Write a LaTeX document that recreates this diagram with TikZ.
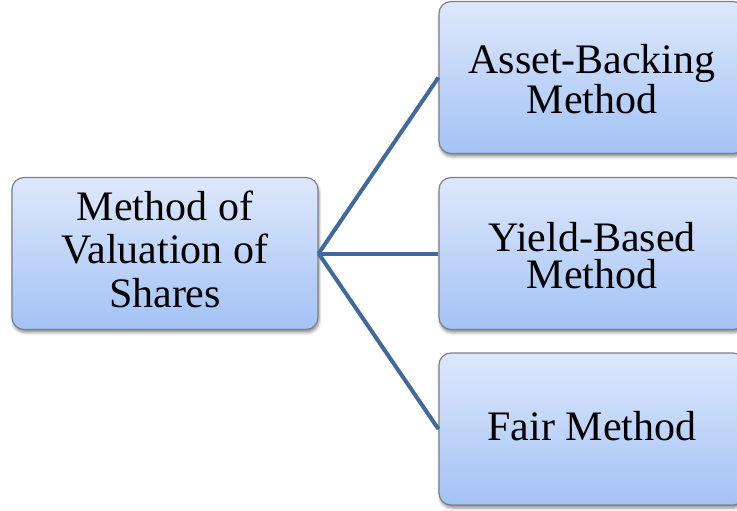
\documentclass[tikz,border=0pt]{standalone}
\usepackage{fontspec}
\setmainfont{Liberation Serif}
\usetikzlibrary{shadows.blur}
\definecolor{linkblue}{RGB}{64,106,156}
\definecolor{boxtop}{RGB}{222,232,251}
\definecolor{boxbot}{RGB}{163,194,245}
\definecolor{boxedge}{RGB}{125,128,135}
\begin{document}
\begin{tikzpicture}[x=1pt,y=-1pt,
  box/.style={draw=boxedge, line width=1.2pt, rounded corners=12pt,
    top color=boxtop, bottom color=boxbot,
    minimum width=306pt, minimum height=152pt, inner sep=0pt,
    blur shadow={shadow xshift=1pt, shadow yshift=-3pt,
      shadow blur radius=3pt, shadow opacity=45}},
  lbl/.style={align=center, inner sep=0pt, text=black},
  lblwide/.style={lbl, font=\fontsize{42}{43.5}\selectfont},
  lbltight/.style={lbl, font=\fontsize{42}{37}\selectfont},
  link/.style={draw=linkblue, line width=4pt}]
  \useasboundingbox (0,0) rectangle (737,511);
  \clip (0,0) rectangle (737,511);

  % boxes
  \node[box] (root) at (165,253.5) {};
  \node[box] (asset) at (592,77.5) {};
  \node[box] (yield) at (592,253.5) {};
  \node[box] (fair) at (592,429) {};

  % connectors from the root to each method
  \draw[link] (root.east) -- (asset.west);
  \draw[link] (root.east) -- (yield.west);
  \draw[link] (root.east) -- (fair.west);

  % labels
  \node[lblwide] (troot) at (165,249) {Method of\\Valuation of\\Shares};
  \node[lbltight] (tasset) at (592,79.2) {Asset-Backing\\Method};
  \node[lbltight] (tyield) at (592,255.7) {Yield-Based\\Method};
  \node[lbltight] (tfair) at (592,425.7) {Fair Method};
\end{tikzpicture}
\end{document}
